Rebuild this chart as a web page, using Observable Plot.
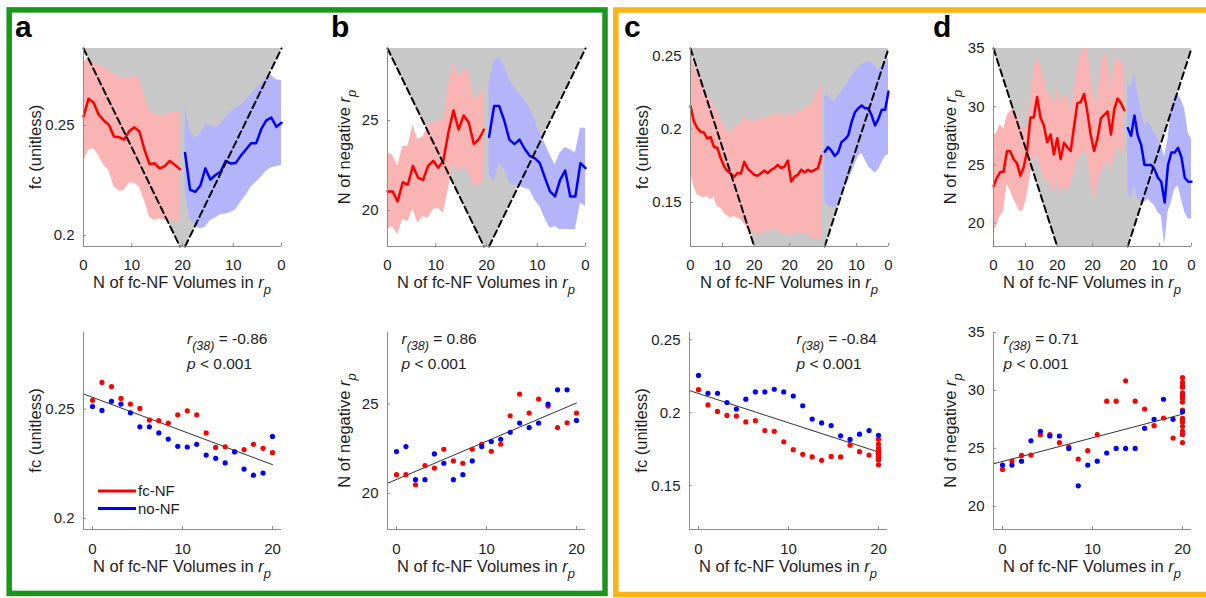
<!DOCTYPE html>
<html><head><meta charset="utf-8">
<script src="https://cdn.jsdelivr.net/npm/d3@7"></script>
<script src="https://cdn.jsdelivr.net/npm/@observablehq/plot@0.6"></script>
<style>
body{margin:0;background:#fff;}
#fig{position:relative;width:1206px;height:598px;overflow:hidden;font-family:"Liberation Sans",Arial,Helvetica,sans-serif;}
.panel{position:absolute;}
</style></head><body><div id="fig"></div>
<script>
// ---------------- data ----------------
const volumes = [0, 1.05, 2.11, 3.16, 4.21, 5.26, 6.32, 7.37, 8.42, 9.47, 10.53, 11.58, 12.63, 13.68, 14.74, 15.79, 16.84, 17.89, 18.95, 20];

const A_red   = [0.2540, 0.2622, 0.2603, 0.2549, 0.2523, 0.2503, 0.2450, 0.2447, 0.2436, 0.2474, 0.2492, 0.2474, 0.2391, 0.2325, 0.2328, 0.2305, 0.2315, 0.2339, 0.2321, 0.2301];
const A_redHi = [0.2788, 0.2808, 0.2788, 0.2773, 0.2765, 0.2750, 0.2732, 0.2720, 0.2712, 0.2717, 0.2727, 0.2712, 0.2636, 0.2568, 0.2553, 0.2541, 0.2545, 0.2556, 0.2561, 0.2561];
const A_redLo = [0.2333, 0.2389, 0.2394, 0.2364, 0.2318, 0.2295, 0.2220, 0.2202, 0.2205, 0.2238, 0.2238, 0.2220, 0.2159, 0.2083, 0.2068, 0.2076, 0.2068, 0.2071, 0.2061, 0.2061];
const A_blue   = [0.2512, 0.2494, 0.2536, 0.2523, 0.2483, 0.2419, 0.2419, 0.2391, 0.2363, 0.2330, 0.2327, 0.2339, 0.2290, 0.2275, 0.2254, 0.2305, 0.2226, 0.2198, 0.2208, 0.2375];
const A_blueHi = [0.2705, 0.2708, 0.2727, 0.2717, 0.2689, 0.2667, 0.2641, 0.2614, 0.2591, 0.2580, 0.2561, 0.2535, 0.2508, 0.2485, 0.2505, 0.2500, 0.2462, 0.2439, 0.2477, 0.2583];
const A_blueLo = [0.2318, 0.2314, 0.2308, 0.2292, 0.2265, 0.2242, 0.2220, 0.2182, 0.2152, 0.2117, 0.2105, 0.2098, 0.2095, 0.2080, 0.2068, 0.2038, 0.2030, 0.2045, 0.2076, 0.2197];

const B_red   = [21.06, 21.06, 20.50, 21.57, 21.43, 22.48, 21.83, 21.70, 22.48, 22.76, 22.37, 22.76, 24.35, 25.56, 24.50, 25.28, 24.89, 23.69, 23.96, 24.50];
const B_redHi = [23.19, 23.09, 22.44, 23.56, 23.56, 24.76, 23.93, 24.11, 24.67, 24.94, 24.94, 25.04, 26.90, 28.19, 27.44, 27.81, 27.72, 26.15, 26.33, 26.89];
const B_redLo = [18.93, 19.11, 18.65, 19.48, 19.39, 20.04, 19.30, 19.67, 19.57, 20.04, 20.13, 19.85, 21.20, 22.63, 22.07, 22.44, 22.07, 21.33, 21.43, 21.61];
const B_blue   = [22.35, 22.63, 20.78, 20.78, 22.22, 21.70, 20.78, 21.06, 21.83, 22.63, 22.91, 23.04, 23.43, 23.94, 23.69, 23.94, 25.00, 25.80, 25.80, 24.09];
const B_blueHi = [24.57, 24.57, 23.19, 23.37, 23.50, 23.20, 22.54, 23.09, 23.74, 24.30, 25.04, 25.69, 26.15, 26.43, 26.85, 27.26, 28.00, 28.56, 28.28, 27.07];
const B_blueLo = [20.22, 20.41, 18.93, 18.93, 18.96, 18.93, 19.11, 19.02, 19.57, 20.22, 20.59, 21.15, 21.24, 21.33, 21.43, 21.52, 22.35, 22.63, 21.61, 21.98];

const C_red   = [0.2158, 0.2054, 0.2009, 0.1982, 0.1977, 0.1937, 0.1946, 0.1878, 0.1873, 0.1801, 0.1747, 0.1715, 0.1697, 0.1674, 0.1701, 0.1697, 0.1778, 0.1733, 0.1710, 0.1689,
                 0.1682, 0.1700, 0.1718, 0.1700, 0.1723, 0.1734, 0.1757, 0.1734, 0.1745, 0.1786, 0.1643, 0.1677, 0.1689, 0.1723, 0.1705, 0.1723, 0.1711, 0.1723, 0.1734, 0.1818];
const C_redHi = [0.2541, 0.2450, 0.2393, 0.2336, 0.2273, 0.2234, 0.2200, 0.2155, 0.2109, 0.2064, 0.2018, 0.1991, 0.1973, 0.2000, 0.2023, 0.2041, 0.2086, 0.2052, 0.2064, 0.2045,
                 0.2064, 0.2075, 0.2086, 0.2064, 0.2098, 0.2109, 0.2086, 0.2120, 0.2064, 0.2120, 0.2098, 0.2086, 0.2132, 0.2120, 0.2132, 0.2173, 0.2155, 0.2223, 0.2264, 0.2302];
const C_redLo = [0.1711, 0.1609, 0.1552, 0.1541, 0.1530, 0.1541, 0.1518, 0.1530, 0.1473, 0.1461, 0.1427, 0.1409, 0.1393, 0.1405, 0.1393, 0.1382, 0.1355, 0.1318, 0.1302, 0.1291,
                 0.1291, 0.1286, 0.1295, 0.1314, 0.1302, 0.1314, 0.1318, 0.1291, 0.1286, 0.1280, 0.1268, 0.1291, 0.1295, 0.1286, 0.1291, 0.1280, 0.1257, 0.1250, 0.1245, 0.1245];
const C_blue   = [0.2256, 0.2133, 0.2133, 0.2070, 0.2025, 0.2093, 0.2143, 0.2143, 0.2161, 0.2143, 0.2115, 0.2048, 0.1957, 0.1930, 0.1912, 0.1842, 0.1817, 0.1853, 0.1878, 0.1846];
const C_blueHi = [0.2484, 0.2468, 0.2432, 0.2400, 0.2427, 0.2455, 0.2461, 0.2450, 0.2439, 0.2416, 0.2393, 0.2359, 0.2325, 0.2286, 0.2257, 0.2223, 0.2189, 0.2200, 0.2234, 0.2223];
const C_blueLo = [0.1825, 0.1814, 0.1768, 0.1723, 0.1700, 0.1723, 0.1745, 0.1791, 0.1836, 0.1814, 0.1757, 0.1700, 0.1643, 0.1598, 0.1541, 0.1507, 0.1461, 0.1473, 0.1473, 0.1518];

const D_red   = [23.18, 23.90, 24.39, 24.42, 26.18, 26.18, 25.49, 25.14, 24.08, 24.80, 26.18, 29.07, 29.07, 30.83, 29.07, 28.40, 26.96, 27.62, 25.89, 27.30,
                 25.50, 26.90, 26.50, 26.20, 28.30, 30.30, 30.40, 31.10, 29.50, 27.50, 26.20, 27.30, 29.00, 29.30, 29.60, 27.60, 29.80, 30.70, 30.30, 29.70];
const D_redHi = [27.48, 27.76, 28.47, 28.05, 29.18, 29.61, 29.90, 29.33, 28.76, 27.76, 28.33, 30.60, 33.17, 34.45, 33.45, 32.46, 31.32, 30.89, 30.04, 31.60,
                 30.32, 30.89, 30.89, 29.75, 31.18, 33.17, 34.59, 35.00, 35.00, 32.60, 30.32, 30.60, 33.45, 34.59, 34.17, 31.46, 33.45, 34.31, 33.88, 33.45];
const D_redLo = [19.22, 19.79, 20.64, 20.93, 23.35, 22.78, 22.07, 21.50, 20.93, 21.21, 22.35, 24.06, 25.77, 25.77, 24.63, 23.78, 23.63, 23.21, 22.50, 23.63,
                 22.35, 23.06, 22.78, 23.21, 24.35, 25.48, 25.77, 26.20, 25.77, 23.21, 21.78, 23.21, 24.35, 24.91, 25.48, 24.35, 25.77, 26.62, 26.34, 25.48];
const D_blue   = [23.56, 23.56, 23.90, 25.66, 26.47, 26.07, 26.07, 25.00, 21.77, 23.56, 23.90, 24.60, 25.00, 25.00, 25.00, 26.73, 27.51, 29.24, 27.51, 28.17];
const D_blueHi = [27.19, 27.76, 29.75, 30.60, 31.03, 30.89, 30.04, 27.19, 25.77, 26.62, 27.19, 27.76, 28.33, 28.76, 28.33, 29.75, 31.03, 33.03, 31.60, 32.03];
const D_blueLo = [20.36, 20.36, 20.93, 22.07, 23.21, 22.92, 21.78, 20.93, 18.08, 20.64, 20.93, 21.50, 21.78, 22.07, 21.78, 21.78, 22.07, 23.21, 22.07, 22.64];

const yDomA = [0.195, 0.285], yDomB = [18, 29], yDomC = [0.12, 0.255], yDomD = [18, 35];
const yTicksA = [0.2, 0.25], yTicksB = [20, 25], yTicksC = [0.15, 0.2, 0.25], yTicksD = [20, 25, 30, 35];
const topTickLabelsAB = ["0", "10", "20", "10", "0"];
const topTickLabelsCD = ["0", "10", "20", "20", "20", "10", "0"];
const bottomTicks = [0, 10, 20];
const rValues = ["-0.86", "0.86", "-0.84", "0.71"];
const panelLetters = ["a", "b", "c", "d"];
const legendLabels = ["fc-NF", "no-NF"];

// ---------------- style / layout ----------------
const FONT = '"Liberation Sans", Arial, Helvetica, sans-serif';
const RED = "#FF0000", BLUE = "#0000FF", PINK = "#FAB4B4", LILAC = "#B4B4FA", SHADE = "#C8C8C8";
const AXIS = "#8C8C8C", INK = "#1E1E1E", GREEN = "#1A961A", ORANGE = "#FCB316";
const mL = 62, mR = 12, mT = 8, mB = 58;
const topLeft = [83, 387, 690, 993], topTop = 48, topW = 198, topH = 198;
const botLeft = [83, 387, 689, 993], botTop = 332, botW = 198, botH = 197;
const annX = [104, 14.5, 107.5, 10.5];
const letterX = [15, 331, 624, 933];

const panels = [
  {red: A_red, redHi: A_redHi, redLo: A_redLo, blue: A_blue, blueHi: A_blueHi, blueLo: A_blueLo, yDomain: yDomA, yTicks: yTicksA, fcLabel: true, topLabels: topTickLabelsAB},
  {red: B_red, redHi: B_redHi, redLo: B_redLo, blue: B_blue, blueHi: B_blueHi, blueLo: B_blueLo, yDomain: yDomB, yTicks: yTicksB, fcLabel: false, topLabels: topTickLabelsAB},
  {red: C_red, redHi: C_redHi, redLo: C_redLo, blue: C_blue, blueHi: C_blueHi, blueLo: C_blueLo, yDomain: yDomC, yTicks: yTicksC, fcLabel: true, topLabels: topTickLabelsCD},
  {red: D_red, redHi: D_redHi, redLo: D_redLo, blue: D_blue, blueHi: D_blueHi, blueLo: D_blueLo, yDomain: yDomD, yTicks: yTicksD, fcLabel: false, topLabels: topTickLabelsCD}
];

const fig = document.getElementById("fig");

// background: frames and panel letters
const bg = d3.select(fig).append("svg").attr("width", 1206).attr("height", 598)
  .style("position", "absolute").style("left", "0px").style("top", "0px");
bg.append("rect").attr("x", 9.2).attr("y", 9.9).attr("width", 595.8).attr("height", 583.5)
  .attr("fill", "none").attr("stroke", GREEN).attr("stroke-width", 5.5);
bg.append("rect").attr("x", 615.8).attr("y", 10).attr("width", 600).attr("height", 584.5)
  .attr("fill", "none").attr("stroke", ORANGE).attr("stroke-width", 5.5);
panelLetters.forEach((t, k) => {
  bg.append("text").attr("x", letterX[k]).attr("y", 37.3).attr("font-family", FONT)
    .attr("font-weight", "bold").attr("font-size", 30).attr("fill", "#000").text(t);
});

function fitLine(xs, ys) {
  const mx = d3.mean(xs), my = d3.mean(ys);
  let sxy = 0, sxx = 0;
  xs.forEach((x, k) => { sxy += (x - mx) * (ys[k] - my); sxx += (x - mx) ** 2; });
  const b = sxy / sxx, a = my - b * mx;
  return x => a + b * x;
}

function rp(sel, prefix) {
  sel.append("tspan").text(prefix);
  sel.append("tspan").attr("font-style", "italic").text("r");
  sel.append("tspan").attr("font-style", "italic").attr("font-size", "13px").attr("dy", 6).text("p");
}

function addLabels(svgEl, P, w, h, xOff) {
  const svg = d3.select(svgEl);
  const xl = svg.append("text").attr("x", mL + w / 2).attr("y", mT + h + xOff)
    .attr("text-anchor", "middle").attr("fill", INK).style("font-size", "16.5px").style("white-space", "pre");
  rp(xl, "N of fc-NF Volumes in ");
  const yOff = P.fcLabel ? 42 : 37;
  const yl = svg.append("text").attr("transform", `translate(${mL - yOff},${mT + h / 2}) rotate(-90)`)
    .attr("text-anchor", "middle").attr("fill", INK).style("font-size", "16.5px").style("white-space", "pre");
  if (P.fcLabel) yl.text("fc (unitless)");
  else rp(yl, "N of negative ");
  return svg;
}

function axesMarks(xDomain, yDomain, xTickPos, xFmt, yTicks, w, h, pad) {
  const tlx = 3 * (xDomain[1] - xDomain[0]) / w;
  const tly = 3 * (yDomain[1] - yDomain[0]) / h;
  return [
    Plot.ruleX([xDomain[0]], {stroke: AXIS, strokeWidth: 1}),
    Plot.ruleY([yDomain[0]], {stroke: AXIS, strokeWidth: 1}),
    Plot.ruleX(xTickPos, {x: d => d, y1: yDomain[0], y2: yDomain[0] + tly, stroke: AXIS}),
    Plot.ruleY(yTicks, {y: d => d, x1: xDomain[0], x2: xDomain[0] + tlx, stroke: AXIS}),
    Plot.axisX(xTickPos, {tickSize: 0, tickPadding: pad, tickFormat: xFmt, fontSize: 15}),
    Plot.axisY(yTicks, {tickSize: 0, tickPadding: 9, tickFormat: d => String(d), fontSize: 15})
  ];
}

function place(el, left, top) {
  const div = document.createElement("div");
  div.className = "panel";
  div.style.left = (left - mL) + "px";
  div.style.top = (top - mT) + "px";
  div.appendChild(el);
  fig.appendChild(div);
}

function baseOpts(w, h, xDomain, yDomain, marks) {
  return {
    width: w + mL + mR, height: h + mT + mB,
    marginLeft: mL, marginRight: mR, marginTop: mT, marginBottom: mB,
    style: {fontFamily: FONT, fontSize: "15px", color: INK, background: "transparent", overflow: "visible"},
    x: {domain: xDomain, label: null},
    y: {domain: yDomain, label: null},
    marks
  };
}

function startText(svg, x, y, size) {
  return svg.append("text").attr("x", x).attr("y", y).attr("text-anchor", "start")
    .attr("fill", INK).style("font-size", size).style("white-space", "pre");
}

panels.forEach((P, k) => {
  // ---------- top panel ----------
  const nRamp = volumes.length;
  const N = P.red.length + P.blue.length;
  const [y0, y1] = P.yDomain;
  const xDomain = [0, N - 1];
  const toL = v => v * (nRamp - 1) / 20;
  const toR = v => N - 1 - v * (nRamp - 1) / 20;
  const redData = P.red.map((v, i) => ({i, v, lo: P.redLo[i], hi: P.redHi[i]}));
  const blueData = P.blue.map((v, j) => ({i: N - 1 - j, v, lo: P.blueLo[j], hi: P.blueHi[j]}));
  const shade = [
    {i: 0, lo: y1, hi: y1}, {i: nRamp - 1, lo: y0, hi: y1},
    {i: N - nRamp, lo: y0, hi: y1}, {i: N - 1, lo: y1, hi: y1}
  ];
  const mid = (toL(20) + toR(20)) / 2;
  const tickPos = P.topLabels.length === 7
    ? [toL(0), toL(10), toL(20), mid, toR(20), toR(10), toR(0)]
    : [toL(0), toL(10), mid, toR(10), toR(0)];
  const tickMap = new Map(tickPos.map((p, m) => [p, P.topLabels[m]]));

  const topMarks = [
    Plot.areaY(shade, {x: "i", y1: "lo", y2: "hi", fill: SHADE}),
    Plot.areaY(redData, {x: "i", y1: "lo", y2: "hi", fill: PINK, clip: true}),
    Plot.areaY(blueData, {x: "i", y1: "lo", y2: "hi", fill: LILAC, clip: true}),
    Plot.line(redData, {x: "i", y: "v", stroke: RED, strokeWidth: 2.5}),
    Plot.line(blueData, {x: "i", y: "v", stroke: BLUE, strokeWidth: 2.5}),
    Plot.line([{i: 0, v: y1}, {i: nRamp - 1, v: y0}], {x: "i", y: "v", stroke: "#000", strokeWidth: 2, strokeDasharray: "7,4"}),
    Plot.line([{i: N - nRamp, v: y0}, {i: N - 1, v: y1}], {x: "i", y: "v", stroke: "#000", strokeWidth: 2, strokeDasharray: "7,4"}),
    ...axesMarks(xDomain, P.yDomain, tickPos, d => tickMap.get(d), P.yTicks, topW, topH, 13.3)
  ];
  const topChart = Plot.plot(baseOpts(topW, topH, xDomain, P.yDomain, topMarks));
  addLabels(topChart, P, topW, topH, 42);
  place(topChart, topLeft[k], topTop);

  // ---------- bottom panel ----------
  const bxDomain = [-1, 21];
  const xMax = volumes[nRamp - 1];
  const redPts = P.red.map((v, i) => ({x: i < nRamp ? volumes[i] : xMax, v}));
  const bluePts = P.blue.map((v, j) => ({x: volumes[j], v}));
  const f = fitLine([...volumes, ...volumes], [...P.red.slice(0, nRamp), ...P.blue]);
  const fitPts = [bxDomain[0], xMax].map(x => ({x, v: f(x)}));
  const botMarks = [
    Plot.line(fitPts, {x: "x", y: "v", stroke: "#333", strokeWidth: 1}),
    Plot.dot(redPts, {x: "x", y: "v", r: 2.6, fill: RED}),
    Plot.dot(bluePts, {x: "x", y: "v", r: 2.6, fill: BLUE}),
    ...axesMarks(bxDomain, P.yDomain, bottomTicks, d => String(d), P.yTicks, botW, botH, 13.8)
  ];
  const botChart = Plot.plot(baseOpts(botW, botH, bxDomain, P.yDomain, botMarks));
  const svg = addLabels(botChart, P, botW, botH, 42.5);
  const t1 = startText(svg, mL + annX[k], mT + 11.5, "15.5px");
  t1.append("tspan").attr("font-style", "italic").text("r");
  t1.append("tspan").attr("font-style", "italic").attr("font-size", "12.5px").attr("dy", 6).text("(38)");
  t1.append("tspan").attr("dy", -6).text(" = " + rValues[k]);
  const t2 = startText(svg, mL + annX[k], mT + 36.5, "15.5px");
  t2.append("tspan").attr("font-style", "italic").text("p");
  t2.append("tspan").text(" < 0.001");
  if (k === 0) {
    [RED, BLUE].forEach((c, m) => {
      const yy = mT + 159 + m * 17.5;
      svg.append("line").attr("x1", mL + 15).attr("x2", mL + 53).attr("y1", yy).attr("y2", yy)
        .attr("stroke", c).attr("stroke-width", 3);
      startText(svg, mL + 55, yy + 5.3, "15px").text(legendLabels[m]);
    });
  }
  place(botChart, botLeft[k], botTop);
});
</script></body></html>
